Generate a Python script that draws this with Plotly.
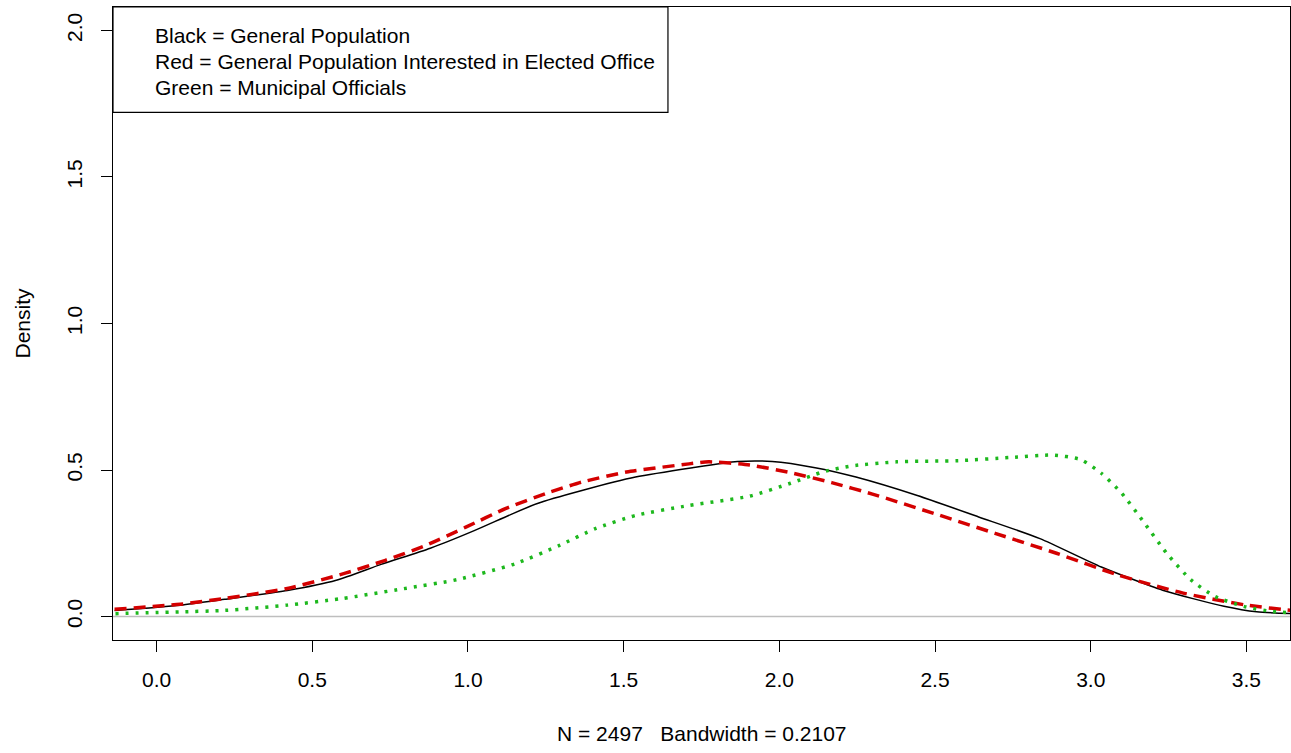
import plotly.graph_objects as go

# ---- data ----
gen_x = [-0.135, 0.076, 0.219, 0.42, 0.577, 0.721, 0.879, 1.022, 1.137, 1.223, 1.366, 1.538, 1.721,
         1.865, 1.977, 2.115, 2.246, 2.443, 2.64, 2.837, 3.034, 3.231, 3.428, 3.533, 3.645]
gen_y = [0.021, 0.039, 0.059, 0.089, 0.124, 0.178, 0.233, 0.294, 0.348, 0.386, 0.43, 0.476, 0.508,
         0.529, 0.529, 0.508, 0.476, 0.413, 0.34, 0.266, 0.169, 0.09, 0.035, 0.016, 0.01]

int_x = [-0.135, 0.076, 0.219, 0.42, 0.606, 0.735, 0.865, 0.993, 1.122, 1.251, 1.366, 1.509, 1.71,
         1.773, 1.905, 2.036, 2.168, 2.299, 2.496, 2.693, 2.89, 3.087, 3.297, 3.494, 3.625, 3.645]
int_y = [0.025, 0.042, 0.062, 0.096, 0.148, 0.192, 0.243, 0.305, 0.369, 0.42, 0.459, 0.493, 0.521,
         0.528, 0.517, 0.491, 0.457, 0.418, 0.352, 0.284, 0.216, 0.142, 0.08, 0.04, 0.023, 0.021]

mun_x = [-0.132, 0.076, 0.219, 0.42, 0.592, 0.793, 0.965, 1.151, 1.294, 1.409, 1.538, 1.71,
         1.905, 2.036, 2.141, 2.232, 2.377, 2.575, 2.745, 2.876, 2.967, 3.034, 3.1, 3.165,
         3.244, 3.322, 3.4, 3.494, 3.585, 3.645]
mun_y = [0.01, 0.016, 0.021, 0.039, 0.061, 0.095, 0.126, 0.18, 0.243, 0.30, 0.345, 0.379,
         0.411, 0.455, 0.494, 0.514, 0.528, 0.532, 0.543, 0.551, 0.536, 0.489, 0.42, 0.33,
         0.216, 0.125, 0.068, 0.034, 0.017, 0.013]

x_ticks = [0.0, 0.5, 1.0, 1.5, 2.0, 2.5, 3.0, 3.5]
y_ticks = [0.0, 0.5, 1.0, 1.5, 2.0]
legend_lines = ["Black = General Population",
                "Red = General Population Interested in Elected Office",
                "Green = Municipal Officials"]
x_title = "N = 2497\u00a0\u00a0\u00a0Bandwidth = 0.2107"
y_title = "Density"

FONT = "Liberation Sans, Arial, sans-serif"
FS = 21

fig = go.Figure()
fig.add_trace(go.Scatter(x=gen_x, y=gen_y, mode="lines",
                         line=dict(color="black", width=1.5, shape="spline", smoothing=0.6),
                         showlegend=False, hoverinfo="skip"))
fig.add_trace(go.Scatter(x=int_x, y=int_y, mode="lines",
                         line=dict(color="#D40000", width=3.5, dash="12px,7px", shape="spline", smoothing=0.6),
                         showlegend=False, hoverinfo="skip"))
fig.add_trace(go.Scatter(x=mun_x, y=mun_y, mode="lines",
                         line=dict(color="#1DB81D", width=3.5, dash="3px,7px", shape="spline", smoothing=0.6),
                         showlegend=False, hoverinfo="skip"))

# zero line (gray, full width)
fig.add_shape(type="line", xref="paper", x0=0, x1=1, yref="y", y0=0, y1=0,
              line=dict(color="#BEBEBE", width=1.5), layer="below")

# legend box (text only, as in R legend)
fig.add_shape(type="rect", xref="paper", yref="paper", x0=0, x1=0.4715, y0=0.8336, y1=1,
              line=dict(color="black", width=1.2), fillcolor="white", layer="above")
leg_y = [0.955, 0.914, 0.873]
for t, yy in zip(legend_lines, leg_y):
    fig.add_annotation(text=t, xref="paper", yref="paper", x=0.034, y=yy,
                       xanchor="left", yanchor="middle", showarrow=False,
                       font=dict(family=FONT, size=FS, color="black"))

fig.add_annotation(text=x_title, xref="paper", yref="paper", x=0.5, y=0,
                   xanchor="center", yanchor="middle", yshift=-93, showarrow=False,
                   font=dict(family=FONT, size=FS, color="black"))
fig.add_annotation(text=y_title, xref="paper", yref="paper", x=0, y=0.5,
                   xanchor="center", yanchor="middle", xshift=-91, textangle=-90, showarrow=False,
                   font=dict(family=FONT, size=FS, color="black"))

fig.update_xaxes(range=[-0.14, 3.64], tickvals=x_ticks, ticktext=[f"{v:.1f}" for v in x_ticks],
                 showgrid=False, zeroline=False, showline=True, mirror=True,
                 linecolor="black", linewidth=1.2, ticks="outside", ticklen=11, tickwidth=1,
                 tickcolor="black", ticklabelstandoff=10,
                 tickfont=dict(family=FONT, size=FS, color="black"))
fig.update_yaxes(range=[-0.08, 2.08], tickvals=y_ticks, ticktext=[f"{v:.1f}" for v in y_ticks],
                 showgrid=False, zeroline=False, showline=True, mirror=True,
                 linecolor="black", linewidth=1.2, ticks="outside", ticklen=11, tickwidth=1,
                 tickcolor="black", tickangle=-90, ticklabelstandoff=11,
                 tickfont=dict(family=FONT, size=FS, color="black"))

fig.update_layout(width=1291, height=753, margin=dict(l=113, r=1, t=7, b=113),
                  plot_bgcolor="white", paper_bgcolor="white", showlegend=False)

fig.write_html("out.html", config={"displayModeBar": False},
               post_script="document.body.style.margin='0';document.body.style.overflow='hidden';")
